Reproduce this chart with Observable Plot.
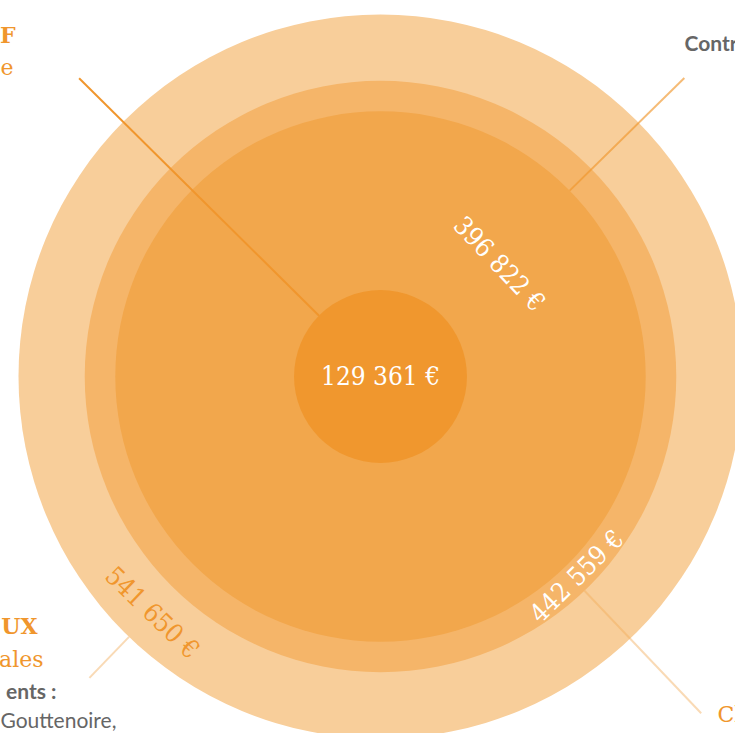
<!DOCTYPE html>
<html>
<head>
<meta charset="utf-8">
<script src="https://cdn.jsdelivr.net/npm/d3@7"></script>
<script src="https://cdn.jsdelivr.net/npm/@observablehq/plot@0.6"></script>
<style>
  html, body { margin: 0; padding: 0; overflow: hidden; background: #fff; width: 735px; height: 733px; }
  #chart svg { display: block; overflow: hidden; }
</style>
</head>
<body>
<div id="chart"></div>
<script>
// ---- data ----
const values = [541650, 442559, 396822, 129361];
const valueLabels = ["541 650 €", "442 559 €", "396 822 €", "129 361 €"];
// visible (cropped) annotation texts of the original infographic
const noteTexts = ["F", "e", "Contr", "UX", "ales", "ents :", "Gouttenoire,", "Cl"];

// ---- styles ----
const ringColors = ["#F8CE9A", "#F5B569", "#F2A74C", "#F0972E"];
const valueLabelColors = ["#F0962D", "#FFFFFF", "#FFFFFF", "#FFFFFF"];
const leaderColors = ["#F2AE5C", "#F2AE5C", "#F0962D", "#F0962D"];
const leaderOpacity = [0.45, 0.45, 0.65, 1];
const noteColors = ["#F0962D", "#F0962D", "#666666", "#F0962D", "#F0962D", "#666666", "#666666", "#F0962D"];
const noteFonts = ["DejaVu Serif", "DejaVu Serif", "Lato", "DejaVu Serif", "DejaVu Serif", "Lato", "Lato", "DejaVu Serif"];
const noteWeights = ["bold", "normal", "bold", "bold", "normal", "bold", "normal", "normal"];

// ---- layout ----
const W = 735, H = 733;
const CX = 380, CY = 376, RMAX = 362;
const labelAngles = [134, 45.5, -43.5, 0];
const labelFrac = [0.5, 0.5, 0.43, 0];
const leaderAngles = [134, 46.4, -44.5, -135.3];
const leaderEnd = [419, 465, 426, 424];
const notePos = [[15, 42, "end"], [13, 74, "end"], [684, 50, "start"], [37, 633, "end"], [43, 666, "end"], [56, 698, "end"], [0, 727, "start"], [717, 721, "start"]];

const rScale = d3.scaleLinear().domain([0, d3.max(values)]).range([0, RMAX]);
const rad = (a) => a * Math.PI / 180;

const rings = values.map((v, i) => ({value: v, color: ringColors[i]}));

const labels = values.map((v, i) => {
  const rOwn = rScale(v);
  const rIn = i + 1 < values.length ? rScale(values[i + 1]) : 0;
  const rr = i === values.length - 1 ? 0 : rIn + labelFrac[i] * (rOwn - rIn);
  const a = labelAngles[i];
  const rot = i === values.length - 1 ? 0 : (Math.sin(rad(a)) < 0 ? a + 90 : a - 90);
  return {
    text: valueLabels[i],
    x: CX + rr * Math.cos(rad(a)),
    y: CY + rr * Math.sin(rad(a)),
    rot,
    color: valueLabelColors[i]
  };
});

const leaders = values.map((v, i) => {
  const a = rad(leaderAngles[i]);
  const r0 = rScale(v);
  return {
    x1: CX + r0 * Math.cos(a), y1: CY + r0 * Math.sin(a),
    x2: CX + leaderEnd[i] * Math.cos(a), y2: CY + leaderEnd[i] * Math.sin(a),
    color: leaderColors[i], op: leaderOpacity[i]
  };
});

const notes = noteTexts.map((t, i) => ({
  text: t, x: notePos[i][0], y: notePos[i][1], anchor: notePos[i][2],
  color: noteColors[i], font: noteFonts[i], weight: noteWeights[i]
}));

const noteMarks = notes.map(n => Plot.text([n], {
  x: "x", y: "y", text: "text", fill: n.color, textAnchor: n.anchor,
  lineAnchor: "bottom", fontSize: n.font === "Lato" ? 21 : 22, fontFamily: n.font, fontWeight: n.weight
}));

const plot = Plot.plot({
  width: W, height: H,
  margin: 0,
  x: {domain: [0, W], range: [0, W], axis: null},
  y: {domain: [0, H], range: [0, H], axis: null},
  r: {type: "linear", domain: [0, d3.max(values)], range: [0, RMAX]},
  color: {type: "identity"},
  opacity: {type: "identity"},
  marks: [
    Plot.dot(rings, {x: () => CX, y: () => CY, r: "value", fill: "color", stroke: null, sort: null}),
    Plot.link(leaders, {x1: "x1", y1: "y1", x2: "x2", y2: "y2", stroke: "color", strokeOpacity: "op", strokeWidth: 2}),
    Plot.text(labels, {
      x: "x", y: "y", text: "text", rotate: "rot", fill: "color",
      fontSize: 26, fontFamily: "'DejaVu Serif Condensed', 'DejaVu Serif', serif"
    }),
    ...noteMarks
  ]
});
document.getElementById("chart").appendChild(plot);
</script>
</body>
</html>
